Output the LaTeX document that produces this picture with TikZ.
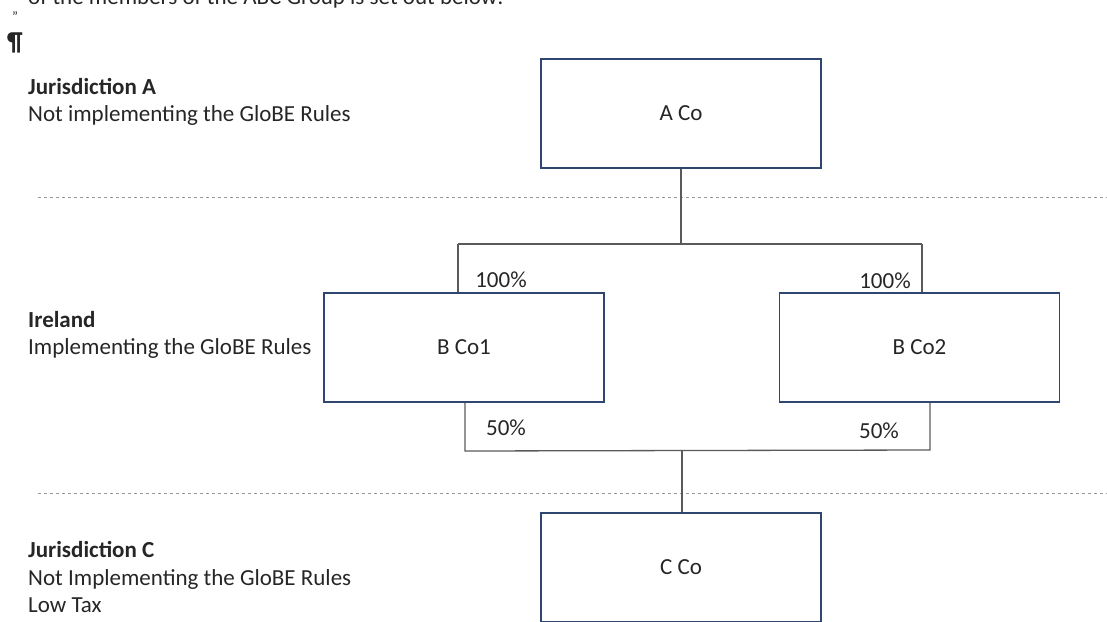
\documentclass[tikz,border=0pt]{standalone}
\usepackage{fontspec}
\setmainfont{Carlito}
\definecolor{boxblue}{HTML}{2F4670}
\definecolor{linkgray}{HTML}{5A5A5A}
\definecolor{txtgray}{HTML}{262626}
\begin{document}
\begin{tikzpicture}[
    x=1pt, y=-1pt,
    font=\fontsize{23}{27.5}\selectfont\color{txtgray},
    entity/.style={draw=boxblue, line width=1.6pt, fill=white,
        minimum width=280pt, minimum height=109pt, inner sep=0pt},
    link/.style={draw=linkgray, line width=1.3pt},
    border/.style={draw=gray!80, dashed, line width=0.8pt},
    share/.style={inner sep=0pt},
    side/.style={anchor=west, align=left, inner sep=0pt}]
    \useasboundingbox (0,0) rectangle (1107,621);

    % Clipped paragraph above the chart
    \node[side, anchor=base west] (intro) at (28,5) {of the members of the ABC Group is set out below:};
    \node[inner sep=0pt, font=\fontsize{14}{16}\selectfont\color{txtgray}] (quote) at (15,17) {"};
    \node[inner sep=0pt, font=\fontsize{26}{30}\selectfont\bfseries\color{txtgray}] (pilcrow) at (15,43) {¶};

    % Jurisdiction borders
    \coordinate (b1w) at (38,197);
    \coordinate (b1e) at (1107,197);
    \coordinate (b2w) at (38,493);
    \coordinate (b2e) at (1107,493);
    \draw[border] (b1w) -- (b1e);
    \draw[border] (b2w) -- (b2e);

    % Jurisdiction labels
    \node[side] (jurA) at (28,102) {\textbf{Jurisdiction A}\\Not implementing the GloBE Rules};
    \node[side] (jurB) at (28,335) {\textbf{Ireland}\\Implementing the GloBE Rules};
    \node[side] (jurC) at (28,577) {\textbf{Jurisdiction C}\\Not Implementing the GloBE Rules\\Low Tax};

    % Bus points of the ownership lines
    \coordinate (topbus) at (681,244);
    \coordinate (topL) at (458,244);
    \coordinate (topR) at (922,244);
    \coordinate (lowbus) at (682,451);
    \coordinate (lowL) at (465,451);
    \coordinate (lowR) at (930,450);

    % Ownership lines (drawn first, boxes cover them)
    \node[entity] (aco) at (681,113.5) {A Co};
    \draw[link] (aco.south) -- (topbus);
    \draw[link] (topL) -- (topR);
    \draw[link] (topL) -- (topL|-292,292);
    \draw[link] (topR) -- (topR|-292,292);
    \draw[link] (lowL|-403,403) -- (lowL) -- (lowR) -- (lowR|-403,403);
    \draw[link] (lowbus) -- (lowbus|-512,512);

    % Entities
    \node[entity] (bco1) at (464,347.5) {B Co1};
    \node[entity] (bco2) at (919.5,347.5) {B Co2};
    \node[entity] (cco) at (681,567.5) {C Co};

    % Shareholdings
    \node[share] (s1) at (501,280) {100\%};
    \node[share] (s2) at (885,281) {100\%};
    \node[share] (s3) at (506,428) {50\%};
    \node[share] (s4) at (879,431) {50\%};
\end{tikzpicture}
\end{document}
